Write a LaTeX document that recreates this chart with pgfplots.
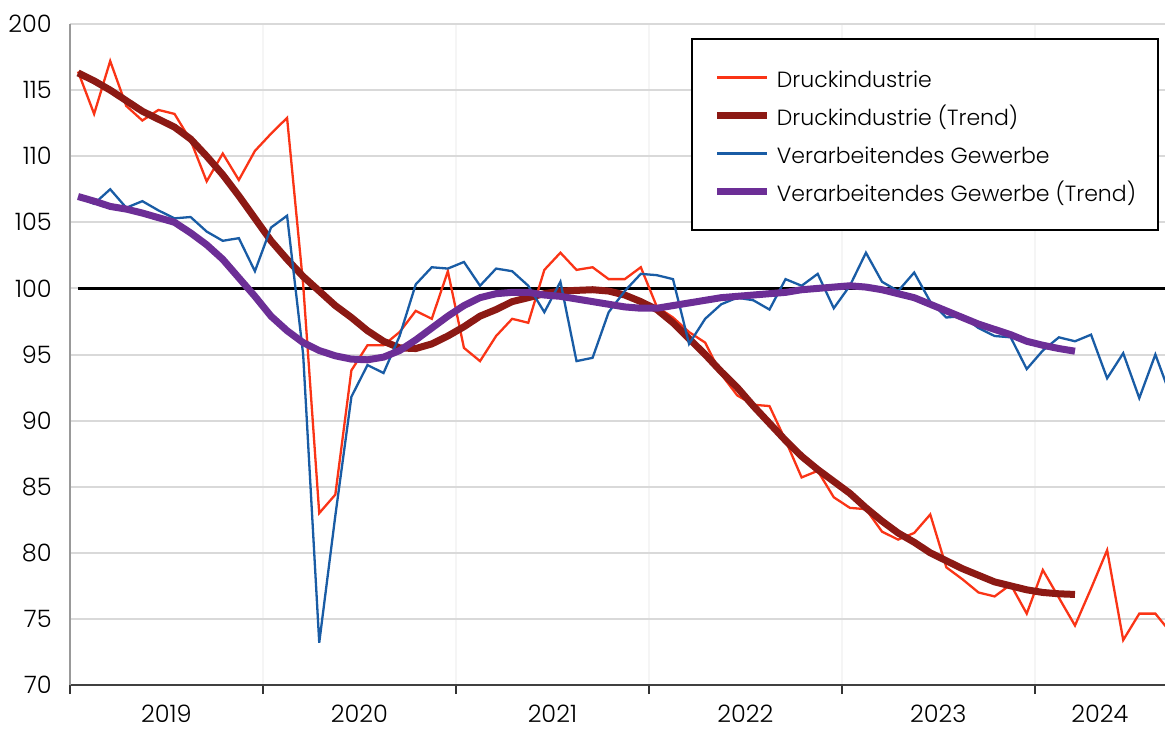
\documentclass[border=0pt]{standalone}
\usepackage{pgfplots}
\pgfplotsset{compat=1.18}
\usepackage{pgfplotstable}
\usepackage{fontspec}
\setmainfont{Poppins}[UprightFont=* Light]

\definecolor{cRed}{RGB}{250,52,22}
\definecolor{cDark}{RGB}{140,25,20}
\definecolor{cBlue}{RGB}{25,92,165}
\definecolor{cPurple}{RGB}{108,46,150}
\definecolor{cGrid}{RGB}{217,217,217}

% month index m, plotted at m+0.5 (Jan 2019 = 0)
\pgfplotstableread{
m v
0 116.4
1 113.2
2 117.2
3 113.8
4 112.7
5 113.5
6 113.2
7 111.2
8 108.1
9 110.2
10 108.2
11 110.4
12 111.7
13 112.9
14 100.3
15 83.0
16 84.4
17 93.8
18 95.7
19 95.7
20 96.7
21 98.3
22 97.7
23 101.3
24 95.5
25 94.5
26 96.4
27 97.7
28 97.4
29 101.4
30 102.7
31 101.4
32 101.6
33 100.7
34 100.7
35 101.6
36 98.6
37 97.8
38 96.7
39 95.9
40 93.5
41 91.9
42 91.2
43 91.1
44 88.5
45 85.7
46 86.2
47 84.2
48 83.4
49 83.3
50 81.6
51 81.0
52 81.5
53 82.9
54 78.9
55 78.0
56 77.0
57 76.7
58 77.6
59 75.4
60 78.7
61 76.6
62 74.5
63 77.3
64 80.2
65 73.4
66 75.4
67 75.4
68 73.9
}\druck

\pgfplotstableread{
m v
0 116.3
1 115.7
2 115.0
3 114.2
4 113.4
5 112.8
6 112.2
7 111.3
8 110.0
9 108.6
10 107.0
11 105.3
12 103.6
13 102.2
14 100.9
15 99.8
16 98.7
17 97.8
18 96.8
19 96.0
20 95.5
21 95.45
22 95.8
23 96.4
24 97.1
25 97.9
26 98.4
27 99.0
28 99.3
29 99.6
30 99.8
31 99.85
32 99.9
33 99.8
34 99.5
35 99.0
36 98.4
37 97.4
38 96.2
39 95.0
40 93.7
41 92.5
42 91.1
43 89.8
44 88.5
45 87.3
46 86.3
47 85.4
48 84.5
49 83.4
50 82.4
51 81.5
52 80.8
53 80.0
54 79.4
55 78.8
56 78.3
57 77.8
58 77.5
59 77.2
60 77.0
61 76.9
62 76.85
}\druckT

\pgfplotstableread{
m v
0 106.9
1 106.4
2 107.5
3 106.1
4 106.6
5 105.9
6 105.3
7 105.4
8 104.3
9 103.6
10 103.8
11 101.3
12 104.6
13 105.5
14 95.0
15 73.2
16 82.8
17 91.8
18 94.2
19 93.6
20 96.4
21 100.3
22 101.6
23 101.5
24 102.0
25 100.2
26 101.5
27 101.3
28 100.2
29 98.2
30 100.5
31 94.5
32 94.75
33 98.2
34 99.8
35 101.1
36 101.0
37 100.7
38 95.8
39 97.7
40 98.8
41 99.3
42 99.1
43 98.4
44 100.7
45 100.2
46 101.1
47 98.5
48 100.2
49 102.7
50 100.5
51 99.8
52 101.2
53 99.0
54 97.8
55 97.9
56 97.0
57 96.4
58 96.3
59 93.9
60 95.3
61 96.3
62 96.0
63 96.5
64 93.2
65 95.1
66 91.7
67 95.0
68 91.7
}\verarb

\pgfplotstableread{
m v
0 106.95
1 106.6
2 106.2
3 106.0
4 105.7
5 105.35
6 105.0
7 104.2
8 103.3
9 102.2
10 100.8
11 99.4
12 97.9
13 96.8
14 95.9
15 95.3
16 94.9
17 94.65
18 94.6
19 94.8
20 95.3
21 96.1
22 97.0
23 97.9
24 98.7
25 99.3
26 99.6
27 99.7
28 99.7
29 99.5
30 99.4
31 99.2
32 99.0
33 98.8
34 98.6
35 98.5
36 98.5
37 98.7
38 98.9
39 99.1
40 99.3
41 99.4
42 99.5
43 99.6
44 99.7
45 99.9
46 100.0
47 100.1
48 100.2
49 100.1
50 99.9
51 99.6
52 99.3
53 98.8
54 98.3
55 97.8
56 97.3
57 96.9
58 96.5
59 96.0
60 95.7
61 95.45
62 95.25
}\verarbT

\begin{document}
\begin{tikzpicture}
\useasboundingbox (-35pt,-22pt) rectangle (547.5pt,342.5pt);
\begin{axis}[
  at={(0pt,0pt)}, anchor=south west,
  scale only axis, width=547.5pt, height=330.5pt,
  xmin=0, xmax=68.1, ymin=70, ymax=120,
  axis x line*=bottom, axis y line*=left,
  x axis line style={-, draw=black!75, line width=1pt},
  y axis line style={-, draw=black!40, line width=0.8pt},
  xtick={0,12,24,36,48,60}, xticklabels={},
  xtick align=outside, major tick length=4.5pt,
  xtick style={draw=black!80, line width=1pt},
  extra x ticks={6,18,30,42,54,64.05},
  extra x tick labels={2019,2020,2021,2022,2023,2024},
  extra x tick style={major tick length=0pt, grid=none,
     xticklabel style={anchor=north, inner sep=0pt, text depth=0pt, yshift=-10pt}},
  ytick={70,75,...,120},
  yticklabels={70,75,80,85,90,95,100,105,110,115,200},
  ytick style={draw=none},
  yticklabel style={anchor=east, inner sep=0pt, xshift=-9pt},
  tick label style={font=\fontsize{12}{14}\selectfont},
  /pgf/number format/assume math mode=true,
  ymajorgrids, xmajorgrids,
  y grid style={cGrid, line width=1pt},
  x grid style={black!4, line width=0.8pt},
  clip=true,
  legend cell align=left,
  legend image code/.code={\draw[#1] (0pt,0pt) -- (25pt,0pt);},
  legend style={at={(0.567,0.979)}, anchor=north west,
     draw=black, line width=1pt, fill=white,
     inner xsep=11pt, inner ysep=12pt, row sep=4.5pt, column sep=3pt,
     font=\fontsize{11}{13}\selectfont,
     nodes={inner sep=0pt, text height=12.5pt, text depth=2pt}},
]
\addplot[black, line width=1.4pt, forget plot] coordinates {(0.5,100) (68.5,100)};
\addplot[cRed, line width=1.15pt] table[x expr=\thisrow{m}+0.5, y=v] {\druck};
\addlegendentry{Druckindustrie}
\addplot[cDark, line width=3.5pt] table[x expr=\thisrow{m}+0.5, y=v] {\druckT};
\addlegendentry{Druckindustrie (Trend)}
\addplot[cBlue, line width=1.15pt] table[x expr=\thisrow{m}+0.5, y=v] {\verarb};
\addlegendentry{Verarbeitendes Gewerbe}
\addplot[cPurple, line width=3.5pt] table[x expr=\thisrow{m}+0.5, y=v] {\verarbT};
\addlegendentry{Verarbeitendes Gewerbe (Trend)}
\end{axis}
\end{tikzpicture}
\end{document}
